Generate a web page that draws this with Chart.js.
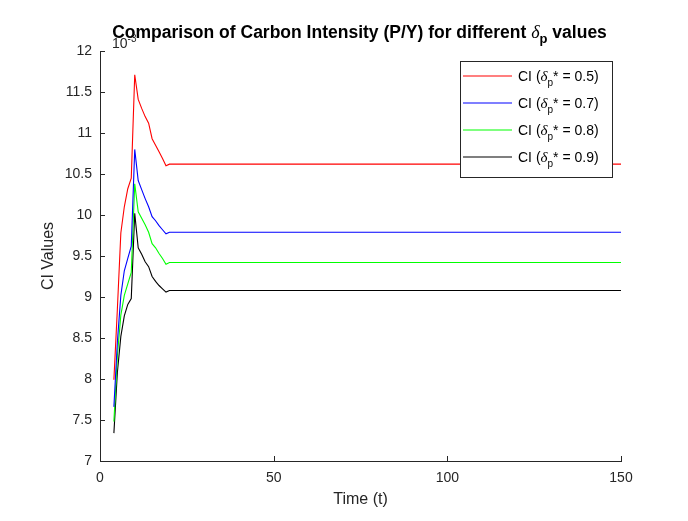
<!DOCTYPE html>
<html lang="en">
<head>
    <meta charset="UTF-8">
    <title>Carbon Intensity comparison</title>
    <script src="https://cdn.jsdelivr.net/npm/chart.js"></script>
    <style>
        html, body { margin: 0; padding: 0; background: #fff; }
        #wrap { width: 688px; height: 521px; position: relative; }
    </style>
</head>
<body>
    <div id="wrap"><canvas id="ciChart"></canvas></div>

    <script>
        // time steps (the curves are flat after t = 20)
        const timeSteps = [4, 5, 6, 7, 8, 9, 10, 11, 12, 13, 14, 15, 16, 17, 18, 19, 20, 150];

        // CI values, x 10^-3
        const ci05 = [7.99, 8.85, 9.78, 10.10, 10.32, 10.45, 11.71, 11.41, 11.30, 11.20, 11.12, 10.93, 10.85, 10.77, 10.69, 10.60, 10.62, 10.62];
        const ci07 = [7.66, 8.45, 9.02, 9.32, 9.47, 9.62, 10.80, 10.42, 10.31, 10.20, 10.10, 9.98, 9.93, 9.87, 9.82, 9.77, 9.79, 9.79];
        const ci08 = [7.48, 8.28, 8.78, 9.02, 9.16, 9.30, 10.38, 10.04, 9.96, 9.88, 9.79, 9.65, 9.60, 9.53, 9.47, 9.40, 9.42, 9.42];
        const ci09 = [7.34, 8.08, 8.52, 8.77, 8.91, 8.98, 10.02, 9.60, 9.52, 9.43, 9.37, 9.25, 9.19, 9.14, 9.10, 9.06, 9.08, 9.08];

        const deltaValues = ['0.5', '0.7', '0.8', '0.9'];
        const seriesColors = ['#ff0000', '#0000ff', '#00ff00', '#000000'];
        const xTicks = [0, 50, 100, 150];
        const yTicks = [7, 7.5, 8, 8.5, 9, 9.5, 10, 10.5, 11, 11.5, 12];

        const AX = '#262626';
        const SANS = '"Liberation Sans", Arial, sans-serif';
        const SERIF = '"Liberation Serif", "Times New Roman", serif';

        function toPoints(vals) {
            return vals.map((v, i) => ({ x: timeSteps[i], y: v }));
        }

        // draws a list of text pieces with their own fonts / vertical shifts
        function drawRuns(ctx, runs, x, y, align) {
            let total = 0;
            runs.forEach(r => { ctx.font = r.font; r.w = ctx.measureText(r.text).width; total += r.w; });
            let cx = align === 'center' ? x - total / 2 : x;
            ctx.textAlign = 'left';
            ctx.textBaseline = 'alphabetic';
            runs.forEach(r => {
                ctx.font = r.font;
                ctx.fillText(r.text, cx, y + (r.dy || 0));
                cx += r.w;
            });
        }

        const overlay = {
            id: 'overlay',
            afterDraw(chart) {
                const { ctx, chartArea: a, scales: { x, y } } = chart;
                ctx.save();

                // inward ticks like matlab
                ctx.strokeStyle = AX;
                ctx.lineWidth = 1;
                ctx.beginPath();
                x.ticks.forEach(t => {
                    const px = Math.round(x.getPixelForValue(t.value)) + 0.5;
                    ctx.moveTo(px, a.bottom);
                    ctx.lineTo(px, a.bottom - 5);
                });
                y.ticks.forEach(t => {
                    const py = Math.round(y.getPixelForValue(t.value)) + 0.5;
                    ctx.moveTo(a.left, py);
                    ctx.lineTo(a.left + 5, py);
                });
                ctx.stroke();

                ctx.fillStyle = '#000';
                // title
                drawRuns(ctx, [
                    { text: 'Comparison of Carbon Intensity (P/Y) for different ', font: 'bold 17.5px ' + SANS },
                    { text: 'δ', font: 'italic 18px ' + SERIF },
                    { text: 'p', font: 'bold 13px ' + SANS, dy: 5 },
                    { text: ' values', font: 'bold 17.5px ' + SANS }
                ], (a.left + a.right) / 2 - 1, 38, 'center');

                // exponent
                ctx.fillStyle = AX;
                drawRuns(ctx, [
                    { text: '10', font: '14px ' + SANS },
                    { text: '-3', font: '10px ' + SANS, dy: -6 }
                ], a.left + 12, 48, 'left');

                // axis labels
                ctx.font = '16px ' + SANS;
                ctx.textAlign = 'center';
                ctx.textBaseline = 'middle';
                ctx.fillText('Time (t)', (a.left + a.right) / 2, 500);
                ctx.save();
                ctx.translate(49, (a.top + a.bottom) / 2);
                ctx.rotate(-Math.PI / 2);
                ctx.fillText('CI Values', 0, 0);
                ctx.restore();

                // legend
                const lx = 460.5, ly = 61.5, lw = 152, lh = 116;
                ctx.fillStyle = '#fff';
                ctx.fillRect(lx, ly, lw, lh);
                ctx.strokeStyle = AX;
                ctx.strokeRect(lx, ly, lw, lh);
                deltaValues.forEach((d, i) => {
                    const cy = 76 + i * 27;
                    ctx.strokeStyle = seriesColors[i];
                    ctx.lineWidth = 1.2;
                    ctx.beginPath();
                    ctx.moveTo(463, cy);
                    ctx.lineTo(512, cy);
                    ctx.stroke();
                    ctx.fillStyle = '#000';
                    drawRuns(ctx, [
                        { text: 'CI (', font: '14px ' + SANS },
                        { text: 'δ', font: 'italic 15px ' + SERIF },
                        { text: 'p', font: '10px ' + SANS, dy: 5 },
                        { text: '*', font: '14px ' + SANS },
                        { text: ' = ' + d + ')', font: '14px ' + SANS }
                    ], 518, cy + 5, 'left');
                });
                ctx.restore();
            }
        };

        const ctx = document.getElementById('ciChart').getContext('2d');
        new Chart(ctx, {
            type: 'line',
            data: {
                datasets: [ci05, ci07, ci08, ci09].map((vals, i) => ({
                    label: 'CI (δp* = ' + deltaValues[i] + ')',
                    data: toPoints(vals),
                    borderColor: seriesColors[i],
                    borderWidth: 1.1,
                    pointRadius: 0,
                    tension: 0,
                    fill: false
                }))
            },
            options: {
                responsive: true,
                maintainAspectRatio: false,
                animation: false,
                devicePixelRatio: 1,
                layout: { padding: { top: 51, right: 67, left: 0, bottom: 0 } },
                plugins: {
                    legend: { display: false },
                    title: { display: false },
                    tooltip: { enabled: false }
                },
                scales: {
                    x: {
                        type: 'linear',
                        min: 0, max: 150,
                        afterBuildTicks: s => { s.ticks = xTicks.map(v => ({ value: v })); },
                        afterFit: s => { s.height = 60; },
                        grid: { display: true, drawOnChartArea: false, drawTicks: false },
                        border: { display: true, color: AX, width: 1 },
                        ticks: { color: AX, font: { family: SANS, size: 14 }, padding: 9, maxRotation: 0,
                                 callback: v => String(v) }
                    },
                    y: {
                        type: 'linear',
                        min: 7, max: 12,
                        afterBuildTicks: s => { s.ticks = yTicks.map(v => ({ value: v })); },
                        afterFit: s => { s.width = 100; },
                        grid: { display: true, drawOnChartArea: false, drawTicks: false },
                        border: { display: true, color: AX, width: 1 },
                        ticks: { color: AX, font: { family: SANS, size: 14 }, padding: 8,
                                 callback: v => String(v) }
                    }
                }
            },
            plugins: [overlay]
        });
    </script>
</body>
</html>
